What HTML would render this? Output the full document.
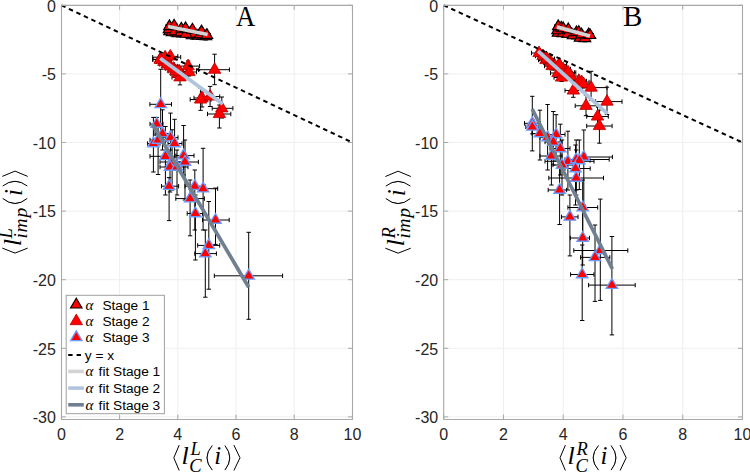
<!DOCTYPE html>
<html><head><meta charset="utf-8"><style>
html,body{margin:0;padding:0;background:#fff;width:750px;height:472px;overflow:hidden}
svg{display:block}
.tk{font-family:"Liberation Sans",sans-serif;font-size:16px;fill:#262626}
.lt{font-family:"Liberation Sans",sans-serif;font-size:13.7px;fill:#000}
.la{font-family:"Liberation Serif",serif;font-style:italic;font-size:15px;fill:#000}
.mi{font-family:"Liberation Serif",serif;font-style:italic;font-size:25px;fill:#000}
.mis{font-family:"Liberation Serif",serif;font-style:italic;font-size:18.5px;fill:#000}
.mp{font-family:"Liberation Serif",serif;font-size:30.5px;fill:#000}
.ml{font-family:"Liberation Serif",serif;font-style:italic;font-size:26px;fill:#000}
.mr{font-family:"Liberation Serif",serif;font-size:24px;fill:#000}
.pl{font-family:"Liberation Serif",serif;font-size:29px;fill:#000}
</style></head><body>
<svg width="750" height="472" viewBox="0 0 750 472">
<rect width="750" height="472" fill="#fff"/>
<line x1="119.60" y1="5.3" x2="119.60" y2="419.1" stroke="#efefef" stroke-width="1"/>
<line x1="177.80" y1="5.3" x2="177.80" y2="419.1" stroke="#efefef" stroke-width="1"/>
<line x1="236.00" y1="5.3" x2="236.00" y2="419.1" stroke="#efefef" stroke-width="1"/>
<line x1="294.20" y1="5.3" x2="294.20" y2="419.1" stroke="#efefef" stroke-width="1"/>
<line x1="61.4" y1="73.90" x2="352.4" y2="73.90" stroke="#efefef" stroke-width="1"/>
<line x1="61.4" y1="142.50" x2="352.4" y2="142.50" stroke="#efefef" stroke-width="1"/>
<line x1="61.4" y1="211.10" x2="352.4" y2="211.10" stroke="#efefef" stroke-width="1"/>
<line x1="61.4" y1="279.70" x2="352.4" y2="279.70" stroke="#efefef" stroke-width="1"/>
<line x1="61.4" y1="348.30" x2="352.4" y2="348.30" stroke="#efefef" stroke-width="1"/>
<line x1="61.4" y1="416.90" x2="352.4" y2="416.90" stroke="#efefef" stroke-width="1"/>
<path d="M169.5,28.0V35.0M167.3,28.0h4.4M167.3,35.0h4.4M166.0,31.5H173.0M166.0,29.3v4.4M173.0,29.3v4.4M172.0,29.0V36.0M169.8,29.0h4.4M169.8,36.0h4.4M168.5,32.5H175.5M168.5,30.3v4.4M175.5,30.3v4.4M178.0,30.0V37.0M175.8,30.0h4.4M175.8,37.0h4.4M174.5,33.5H181.5M174.5,31.3v4.4M181.5,31.3v4.4M192.0,32.0V39.0M189.8,32.0h4.4M189.8,39.0h4.4M188.5,35.5H195.5M188.5,33.3v4.4M195.5,33.3v4.4M198.0,32.3V39.3M195.8,32.3h4.4M195.8,39.3h4.4M194.5,35.8H201.5M194.5,33.6v4.4M201.5,33.6v4.4M204.0,32.7V39.7M201.8,32.7h4.4M201.8,39.7h4.4M200.5,36.2H207.5M200.5,34.0v4.4M207.5,34.0v4.4M169.0,26.0V33.0M166.8,26.0h4.4M166.8,33.0h4.4M165.5,29.5H172.5M165.5,27.3v4.4M172.5,27.3v4.4M175.0,28.0V35.0M172.8,28.0h4.4M172.8,35.0h4.4M171.5,31.5H178.5M171.5,29.3v4.4M178.5,29.3v4.4M181.0,29.0V36.0M178.8,29.0h4.4M178.8,36.0h4.4M177.5,32.5H184.5M177.5,30.3v4.4M184.5,30.3v4.4M188.0,29.5V36.5M185.8,29.5h4.4M185.8,36.5h4.4M184.5,33.0H191.5M184.5,30.8v4.4M191.5,30.8v4.4M194.0,30.5V37.5M191.8,30.5h4.4M191.8,37.5h4.4M190.5,34.0H197.5M190.5,31.8v4.4M197.5,31.8v4.4M200.0,31.0V38.0M197.8,31.0h4.4M197.8,38.0h4.4M196.5,34.5H203.5M196.5,32.3v4.4M203.5,32.3v4.4M206.0,33.0V40.0M203.8,33.0h4.4M203.8,40.0h4.4M202.5,36.5H209.5M202.5,34.3v4.4M209.5,34.3v4.4M186.0,30.5V37.5M183.8,30.5h4.4M183.8,37.5h4.4M182.5,34.0H189.5M182.5,31.8v4.4M189.5,31.8v4.4M169.4,22.9V29.9M167.2,22.9h4.4M167.2,29.9h4.4M165.9,26.4H172.9M165.9,24.2v4.4M172.9,24.2v4.4M174.1,22.3V29.3M171.9,22.3h4.4M171.9,29.3h4.4M170.6,25.8H177.6M170.6,23.6v4.4M177.6,23.6v4.4M181.3,25.3V32.3M179.1,25.3h4.4M179.1,32.3h4.4M177.8,28.8H184.8M177.8,26.6v4.4M184.8,26.6v4.4M185.5,24.9V31.9M183.3,24.9h4.4M183.3,31.9h4.4M182.0,28.4H189.0M182.0,26.2v4.4M189.0,26.2v4.4M192.4,26.3V33.3M190.2,26.3h4.4M190.2,33.3h4.4M188.9,29.8H195.9M188.9,27.6v4.4M195.9,27.6v4.4M201.5,28.1V35.1M199.3,28.1h4.4M199.3,35.1h4.4M198.0,31.6H205.0M198.0,29.4v4.4M205.0,29.4v4.4M206.9,31.6V38.6M204.7,31.6h4.4M204.7,38.6h4.4M203.4,35.1H210.4M203.4,32.9v4.4M210.4,32.9v4.4" stroke="#000" stroke-width="1" fill="none"/>
<path transform="translate(169.5,31.5)" d="M0,-6.5 L5.75,3.25 L-5.75,3.25 Z" fill="#ff0000" stroke="#000" stroke-width="1.15"/>
<path transform="translate(172.0,32.5)" d="M0,-6.5 L5.75,3.25 L-5.75,3.25 Z" fill="#ff0000" stroke="#000" stroke-width="1.15"/>
<path transform="translate(178.0,33.5)" d="M0,-6.5 L5.75,3.25 L-5.75,3.25 Z" fill="#ff0000" stroke="#000" stroke-width="1.15"/>
<path transform="translate(192.0,35.5)" d="M0,-6.5 L5.75,3.25 L-5.75,3.25 Z" fill="#ff0000" stroke="#000" stroke-width="1.15"/>
<path transform="translate(198.0,35.8)" d="M0,-6.5 L5.75,3.25 L-5.75,3.25 Z" fill="#ff0000" stroke="#000" stroke-width="1.15"/>
<path transform="translate(204.0,36.2)" d="M0,-6.5 L5.75,3.25 L-5.75,3.25 Z" fill="#ff0000" stroke="#000" stroke-width="1.15"/>
<path transform="translate(169.0,29.5)" d="M0,-6.5 L5.75,3.25 L-5.75,3.25 Z" fill="#ff0000" stroke="#000" stroke-width="1.15"/>
<path transform="translate(175.0,31.5)" d="M0,-6.5 L5.75,3.25 L-5.75,3.25 Z" fill="#ff0000" stroke="#000" stroke-width="1.15"/>
<path transform="translate(181.0,32.5)" d="M0,-6.5 L5.75,3.25 L-5.75,3.25 Z" fill="#ff0000" stroke="#000" stroke-width="1.15"/>
<path transform="translate(188.0,33.0)" d="M0,-6.5 L5.75,3.25 L-5.75,3.25 Z" fill="#ff0000" stroke="#000" stroke-width="1.15"/>
<path transform="translate(194.0,34.0)" d="M0,-6.5 L5.75,3.25 L-5.75,3.25 Z" fill="#ff0000" stroke="#000" stroke-width="1.15"/>
<path transform="translate(200.0,34.5)" d="M0,-6.5 L5.75,3.25 L-5.75,3.25 Z" fill="#ff0000" stroke="#000" stroke-width="1.15"/>
<path transform="translate(206.0,36.5)" d="M0,-6.5 L5.75,3.25 L-5.75,3.25 Z" fill="#ff0000" stroke="#000" stroke-width="1.15"/>
<path transform="translate(186.0,34.0)" d="M0,-6.5 L5.75,3.25 L-5.75,3.25 Z" fill="#ff0000" stroke="#000" stroke-width="1.15"/>
<path transform="translate(169.4,26.4)" d="M0,-6.5 L5.75,3.25 L-5.75,3.25 Z" fill="#ff0000" stroke="#000" stroke-width="1.15"/>
<path transform="translate(174.1,25.8)" d="M0,-6.5 L5.75,3.25 L-5.75,3.25 Z" fill="#ff0000" stroke="#000" stroke-width="1.15"/>
<path transform="translate(181.3,28.8)" d="M0,-6.5 L5.75,3.25 L-5.75,3.25 Z" fill="#ff0000" stroke="#000" stroke-width="1.15"/>
<path transform="translate(185.5,28.4)" d="M0,-6.5 L5.75,3.25 L-5.75,3.25 Z" fill="#ff0000" stroke="#000" stroke-width="1.15"/>
<path transform="translate(192.4,29.8)" d="M0,-6.5 L5.75,3.25 L-5.75,3.25 Z" fill="#ff0000" stroke="#000" stroke-width="1.15"/>
<path transform="translate(201.5,31.6)" d="M0,-6.5 L5.75,3.25 L-5.75,3.25 Z" fill="#ff0000" stroke="#000" stroke-width="1.15"/>
<path transform="translate(206.9,35.1)" d="M0,-6.5 L5.75,3.25 L-5.75,3.25 Z" fill="#ff0000" stroke="#000" stroke-width="1.15"/>
<path d="M160.4,55.3V63.3M158.2,55.3h4.4M158.2,63.3h4.4M152.9,59.3H167.9M152.9,57.1v4.4M167.9,57.1v4.4M163.8,57.8V65.8M161.6,57.8h4.4M161.6,65.8h4.4M156.3,61.8H171.3M156.3,59.6v4.4M171.3,59.6v4.4M167.2,60.4V68.4M165.0,60.4h4.4M165.0,68.4h4.4M159.7,64.4H174.7M159.7,62.2v4.4M174.7,62.2v4.4M169.8,62.1V70.1M167.6,62.1h4.4M167.6,70.1h4.4M162.3,66.1H177.3M162.3,63.9v4.4M177.3,63.9v4.4M173.2,64.6V72.6M171.0,64.6h4.4M171.0,72.6h4.4M165.7,68.6H180.7M165.7,66.4v4.4M180.7,66.4v4.4M175.7,67.1V75.1M173.5,67.1h4.4M173.5,75.1h4.4M168.2,71.1H183.2M168.2,68.9v4.4M183.2,68.9v4.4M178.2,69.7V77.7M176.0,69.7h4.4M176.0,77.7h4.4M170.7,73.7H185.7M170.7,71.5v4.4M185.7,71.5v4.4M180.0,70.0V84.9M177.8,70.0h4.4M177.8,84.9h4.4M172.0,77.3H188.0M172.0,75.1v4.4M188.0,75.1v4.4M160.2,55.7V63.7M158.0,55.7h4.4M158.0,63.7h4.4M152.7,59.7H167.7M152.7,57.5v4.4M167.7,57.5v4.4M165.1,53.0V64.0M162.9,53.0h4.4M162.9,64.0h4.4M152.7,57.2H180.7M152.7,55.0v4.4M180.7,55.0v4.4M170.3,52.4V60.4M168.1,52.4h4.4M168.1,60.4h4.4M162.8,56.4H177.8M162.8,54.2v4.4M177.8,54.2v4.4M179.2,67.4V75.4M177.0,67.4h4.4M177.0,75.4h4.4M171.7,71.4H186.7M171.7,69.2v4.4M186.7,69.2v4.4M188.1,61.0V75.0M185.9,61.0h4.4M185.9,75.0h4.4M175.0,66.1H199.6M175.0,63.9v4.4M199.6,63.9v4.4M189.0,68.0V76.0M186.8,68.0h4.4M186.8,76.0h4.4M181.5,72.0H196.5M181.5,69.8v4.4M196.5,69.8v4.4M178.9,67.6V75.6M176.7,67.6h4.4M176.7,75.6h4.4M171.4,71.6H186.4M171.4,69.4v4.4M186.4,69.4v4.4M214.6,54.2V84.7M212.4,54.2h4.4M212.4,84.7h4.4M198.5,69.7H229.4M198.5,67.5v4.4M229.4,67.5v4.4M202.0,92.0V107.0M199.8,92.0h4.4M199.8,107.0h4.4M194.0,98.0H210.0M194.0,95.8v4.4M210.0,95.8v4.4M200.6,88.0V110.3M198.4,88.0h4.4M198.4,110.3h4.4M190.2,99.5H211.0M190.2,97.3v4.4M211.0,97.3v4.4M210.1,86.4V106.5M207.9,86.4h4.4M207.9,106.5h4.4M200.0,96.5H219.7M200.0,94.3v4.4M219.7,94.3v4.4M221.8,97.0V118.0M219.6,97.0h4.4M219.6,118.0h4.4M212.2,108.3H232.9M212.2,106.1v4.4M232.9,106.1v4.4M219.4,105.0V128.0M217.2,105.0h4.4M217.2,128.0h4.4M207.5,114.0H230.8M207.5,111.8v4.4M230.8,111.8v4.4" stroke="#000" stroke-width="1" fill="none"/>
<path transform="translate(160.4,59.3)" d="M0,-7.0 L6.2,3.6 L-6.2,3.6 Z" fill="#ff0000" stroke="#b80000" stroke-width="0.8"/>
<path transform="translate(163.8,61.8)" d="M0,-7.0 L6.2,3.6 L-6.2,3.6 Z" fill="#ff0000" stroke="#b80000" stroke-width="0.8"/>
<path transform="translate(167.2,64.4)" d="M0,-7.0 L6.2,3.6 L-6.2,3.6 Z" fill="#ff0000" stroke="#b80000" stroke-width="0.8"/>
<path transform="translate(169.8,66.1)" d="M0,-7.0 L6.2,3.6 L-6.2,3.6 Z" fill="#ff0000" stroke="#b80000" stroke-width="0.8"/>
<path transform="translate(173.2,68.6)" d="M0,-7.0 L6.2,3.6 L-6.2,3.6 Z" fill="#ff0000" stroke="#b80000" stroke-width="0.8"/>
<path transform="translate(175.7,71.1)" d="M0,-7.0 L6.2,3.6 L-6.2,3.6 Z" fill="#ff0000" stroke="#b80000" stroke-width="0.8"/>
<path transform="translate(178.2,73.7)" d="M0,-7.0 L6.2,3.6 L-6.2,3.6 Z" fill="#ff0000" stroke="#b80000" stroke-width="0.8"/>
<path transform="translate(180.0,77.3)" d="M0,-7.0 L6.2,3.6 L-6.2,3.6 Z" fill="#ff0000" stroke="#b80000" stroke-width="0.8"/>
<path transform="translate(160.2,59.7)" d="M0,-7.0 L6.2,3.6 L-6.2,3.6 Z" fill="#ff0000" stroke="#b80000" stroke-width="0.8"/>
<path transform="translate(165.1,57.2)" d="M0,-7.0 L6.2,3.6 L-6.2,3.6 Z" fill="#ff0000" stroke="#b80000" stroke-width="0.8"/>
<path transform="translate(170.3,56.4)" d="M0,-7.0 L6.2,3.6 L-6.2,3.6 Z" fill="#ff0000" stroke="#b80000" stroke-width="0.8"/>
<path transform="translate(179.2,71.4)" d="M0,-7.0 L6.2,3.6 L-6.2,3.6 Z" fill="#ff0000" stroke="#b80000" stroke-width="0.8"/>
<path transform="translate(188.1,66.1)" d="M0,-7.0 L6.2,3.6 L-6.2,3.6 Z" fill="#ff0000" stroke="#b80000" stroke-width="0.8"/>
<path transform="translate(189.0,72.0)" d="M0,-7.0 L6.2,3.6 L-6.2,3.6 Z" fill="#ff0000" stroke="#b80000" stroke-width="0.8"/>
<path transform="translate(178.9,71.6)" d="M0,-7.0 L6.2,3.6 L-6.2,3.6 Z" fill="#ff0000" stroke="#b80000" stroke-width="0.8"/>
<path transform="translate(214.6,69.7)" d="M0,-7.0 L6.2,3.6 L-6.2,3.6 Z" fill="#ff0000" stroke="#b80000" stroke-width="0.8"/>
<path transform="translate(202.0,98.0)" d="M0,-7.0 L6.2,3.6 L-6.2,3.6 Z" fill="#ff0000" stroke="#b80000" stroke-width="0.8"/>
<path transform="translate(200.6,99.5)" d="M0,-7.0 L6.2,3.6 L-6.2,3.6 Z" fill="#ff0000" stroke="#b80000" stroke-width="0.8"/>
<path transform="translate(210.1,96.5)" d="M0,-7.0 L6.2,3.6 L-6.2,3.6 Z" fill="#ff0000" stroke="#b80000" stroke-width="0.8"/>
<path transform="translate(221.8,108.3)" d="M0,-7.0 L6.2,3.6 L-6.2,3.6 Z" fill="#ff0000" stroke="#b80000" stroke-width="0.8"/>
<path transform="translate(219.4,114.0)" d="M0,-7.0 L6.2,3.6 L-6.2,3.6 Z" fill="#ff0000" stroke="#b80000" stroke-width="0.8"/>
<path d="M160.7,69.3V135.0M158.5,69.3h4.4M158.5,135.0h4.4M149.9,104.3H171.5M149.9,102.1v4.4M171.5,102.1v4.4M156.7,117.4V135.0M154.5,117.4h4.4M154.5,135.0h4.4M150.0,124.0H163.0M150.0,121.8v4.4M163.0,121.8v4.4M162.5,109.8V150.0M160.3,109.8h4.4M160.3,150.0h4.4M155.0,133.6H170.0M155.0,131.4v4.4M170.0,131.4v4.4M170.5,113.1V160.0M168.3,113.1h4.4M168.3,160.0h4.4M163.0,137.6H178.0M163.0,135.4v4.4M178.0,135.4v4.4M153.4,117.4V172.0M151.2,117.4h4.4M151.2,172.0h4.4M147.6,143.5H160.0M147.6,141.3v4.4M160.0,141.3v4.4M158.1,126.5V174.5M155.9,126.5h4.4M155.9,174.5h4.4M150.0,140.0H166.0M150.0,137.8v4.4M166.0,137.8v4.4M174.6,119.3V170.0M172.4,119.3h4.4M172.4,170.0h4.4M168.0,143.5H182.0M168.0,141.3v4.4M182.0,141.3v4.4M165.4,126.5V195.0M163.2,126.5h4.4M163.2,195.0h4.4M150.0,156.3H175.0M150.0,154.1v4.4M175.0,154.1v4.4M183.6,125.5V175.0M181.4,125.5h4.4M181.4,175.0h4.4M176.0,155.6H194.0M176.0,153.4v4.4M194.0,153.4v4.4M172.1,129.8V190.0M169.9,129.8h4.4M169.9,190.0h4.4M160.0,162.0H183.0M160.0,159.8v4.4M183.0,159.8v4.4M185.0,140.0V200.0M182.8,140.0h4.4M182.8,200.0h4.4M176.0,162.0H198.4M176.0,159.8v4.4M198.4,159.8v4.4M170.0,150.0V192.0M167.8,150.0h4.4M167.8,192.0h4.4M160.0,167.0H180.0M160.0,164.8v4.4M180.0,164.8v4.4M177.0,150.0V195.0M174.8,150.0h4.4M174.8,195.0h4.4M168.0,167.0H188.0M168.0,164.8v4.4M188.0,164.8v4.4M169.1,177.6V220.6M166.9,177.6h4.4M166.9,220.6h4.4M161.5,186.2H178.6M161.5,184.0v4.4M178.6,184.0v4.4M194.8,170.0V230.0M192.6,170.0h4.4M192.6,230.0h4.4M185.0,186.2H205.0M185.0,184.0v4.4M205.0,184.0v4.4M203.1,148.3V230.0M200.9,148.3h4.4M200.9,230.0h4.4M192.0,188.7H217.7M192.0,186.5v4.4M217.7,186.5v4.4M190.1,180.0V235.8M187.9,180.0h4.4M187.9,235.8h4.4M175.8,198.6H204.4M175.8,196.4v4.4M204.4,196.4v4.4M195.4,195.0V260.0M193.2,195.0h4.4M193.2,260.0h4.4M187.2,213.5H202.5M187.2,211.3v4.4M202.5,211.3v4.4M215.5,188.1V244.4M213.3,188.1h4.4M213.3,244.4h4.4M202.5,220.0H229.2M202.5,217.8v4.4M229.2,217.8v4.4M208.8,201.5V289.2M206.6,201.5h4.4M206.6,289.2h4.4M197.7,245.4H219.7M197.7,243.2v4.4M219.7,243.2v4.4M205.3,230.0V297.2M203.1,230.0h4.4M203.1,297.2h4.4M194.8,253.6H216.4M194.8,251.4v4.4M216.4,251.4v4.4M248.7,232.3V319.3M246.5,232.3h4.4M246.5,319.3h4.4M214.3,275.8H282.6M214.3,273.6v4.4M282.6,273.6v4.4" stroke="#000" stroke-width="1" fill="none"/>
<path transform="translate(160.7,104.3)" d="M0,-6.5 L5.75,3.25 L-5.75,3.25 Z" fill="#ff0000" stroke="#6b9cff" stroke-width="1.3"/>
<path transform="translate(156.7,124.0)" d="M0,-6.5 L5.75,3.25 L-5.75,3.25 Z" fill="#ff0000" stroke="#6b9cff" stroke-width="1.3"/>
<path transform="translate(162.5,133.6)" d="M0,-6.5 L5.75,3.25 L-5.75,3.25 Z" fill="#ff0000" stroke="#6b9cff" stroke-width="1.3"/>
<path transform="translate(170.5,137.6)" d="M0,-6.5 L5.75,3.25 L-5.75,3.25 Z" fill="#ff0000" stroke="#6b9cff" stroke-width="1.3"/>
<path transform="translate(153.4,143.5)" d="M0,-6.5 L5.75,3.25 L-5.75,3.25 Z" fill="#ff0000" stroke="#6b9cff" stroke-width="1.3"/>
<path transform="translate(158.1,140.0)" d="M0,-6.5 L5.75,3.25 L-5.75,3.25 Z" fill="#ff0000" stroke="#6b9cff" stroke-width="1.3"/>
<path transform="translate(174.6,143.5)" d="M0,-6.5 L5.75,3.25 L-5.75,3.25 Z" fill="#ff0000" stroke="#6b9cff" stroke-width="1.3"/>
<path transform="translate(165.4,156.3)" d="M0,-6.5 L5.75,3.25 L-5.75,3.25 Z" fill="#ff0000" stroke="#6b9cff" stroke-width="1.3"/>
<path transform="translate(183.6,155.6)" d="M0,-6.5 L5.75,3.25 L-5.75,3.25 Z" fill="#ff0000" stroke="#6b9cff" stroke-width="1.3"/>
<path transform="translate(172.1,162.0)" d="M0,-6.5 L5.75,3.25 L-5.75,3.25 Z" fill="#ff0000" stroke="#6b9cff" stroke-width="1.3"/>
<path transform="translate(185.0,162.0)" d="M0,-6.5 L5.75,3.25 L-5.75,3.25 Z" fill="#ff0000" stroke="#6b9cff" stroke-width="1.3"/>
<path transform="translate(170.0,167.0)" d="M0,-6.5 L5.75,3.25 L-5.75,3.25 Z" fill="#ff0000" stroke="#6b9cff" stroke-width="1.3"/>
<path transform="translate(177.0,167.0)" d="M0,-6.5 L5.75,3.25 L-5.75,3.25 Z" fill="#ff0000" stroke="#6b9cff" stroke-width="1.3"/>
<path transform="translate(169.1,186.2)" d="M0,-6.5 L5.75,3.25 L-5.75,3.25 Z" fill="#ff0000" stroke="#6b9cff" stroke-width="1.3"/>
<path transform="translate(194.8,186.2)" d="M0,-6.5 L5.75,3.25 L-5.75,3.25 Z" fill="#ff0000" stroke="#6b9cff" stroke-width="1.3"/>
<path transform="translate(203.1,188.7)" d="M0,-6.5 L5.75,3.25 L-5.75,3.25 Z" fill="#ff0000" stroke="#6b9cff" stroke-width="1.3"/>
<path transform="translate(190.1,198.6)" d="M0,-6.5 L5.75,3.25 L-5.75,3.25 Z" fill="#ff0000" stroke="#6b9cff" stroke-width="1.3"/>
<path transform="translate(195.4,213.5)" d="M0,-6.5 L5.75,3.25 L-5.75,3.25 Z" fill="#ff0000" stroke="#6b9cff" stroke-width="1.3"/>
<path transform="translate(215.5,220.0)" d="M0,-6.5 L5.75,3.25 L-5.75,3.25 Z" fill="#ff0000" stroke="#6b9cff" stroke-width="1.3"/>
<path transform="translate(208.8,245.4)" d="M0,-6.5 L5.75,3.25 L-5.75,3.25 Z" fill="#ff0000" stroke="#6b9cff" stroke-width="1.3"/>
<path transform="translate(205.3,253.6)" d="M0,-6.5 L5.75,3.25 L-5.75,3.25 Z" fill="#ff0000" stroke="#6b9cff" stroke-width="1.3"/>
<path transform="translate(248.7,275.8)" d="M0,-6.5 L5.75,3.25 L-5.75,3.25 Z" fill="#ff0000" stroke="#6b9cff" stroke-width="1.3"/>
<line x1="61.4" y1="5.3" x2="352.4" y2="142.50000000000003" stroke="#000" stroke-width="2.0" stroke-dasharray="4.5,3.77"/>
<line x1="168.1" y1="26.5" x2="207.6" y2="34.5" stroke="#d3d3d3" stroke-width="3.7"/>
<line x1="160.2" y1="58.2" x2="222.8" y2="103.9" stroke="#b0c4de" stroke-width="3.7"/>
<line x1="152.7" y1="124.8" x2="248.7" y2="287.3" stroke="#708090" stroke-width="3.7"/>
<line x1="61.40" y1="419.1" x2="61.40" y2="414.6" stroke="#a8a8a8" stroke-width="1"/>
<line x1="61.40" y1="5.3" x2="61.40" y2="9.8" stroke="#a8a8a8" stroke-width="1"/>
<line x1="119.60" y1="419.1" x2="119.60" y2="414.6" stroke="#a8a8a8" stroke-width="1"/>
<line x1="119.60" y1="5.3" x2="119.60" y2="9.8" stroke="#a8a8a8" stroke-width="1"/>
<line x1="177.80" y1="419.1" x2="177.80" y2="414.6" stroke="#a8a8a8" stroke-width="1"/>
<line x1="177.80" y1="5.3" x2="177.80" y2="9.8" stroke="#a8a8a8" stroke-width="1"/>
<line x1="236.00" y1="419.1" x2="236.00" y2="414.6" stroke="#a8a8a8" stroke-width="1"/>
<line x1="236.00" y1="5.3" x2="236.00" y2="9.8" stroke="#a8a8a8" stroke-width="1"/>
<line x1="294.20" y1="419.1" x2="294.20" y2="414.6" stroke="#a8a8a8" stroke-width="1"/>
<line x1="294.20" y1="5.3" x2="294.20" y2="9.8" stroke="#a8a8a8" stroke-width="1"/>
<line x1="352.40" y1="419.1" x2="352.40" y2="414.6" stroke="#a8a8a8" stroke-width="1"/>
<line x1="352.40" y1="5.3" x2="352.40" y2="9.8" stroke="#a8a8a8" stroke-width="1"/>
<line x1="61.4" y1="5.30" x2="65.9" y2="5.30" stroke="#a8a8a8" stroke-width="1"/>
<line x1="352.4" y1="5.30" x2="347.9" y2="5.30" stroke="#a8a8a8" stroke-width="1"/>
<line x1="61.4" y1="73.90" x2="65.9" y2="73.90" stroke="#a8a8a8" stroke-width="1"/>
<line x1="352.4" y1="73.90" x2="347.9" y2="73.90" stroke="#a8a8a8" stroke-width="1"/>
<line x1="61.4" y1="142.50" x2="65.9" y2="142.50" stroke="#a8a8a8" stroke-width="1"/>
<line x1="352.4" y1="142.50" x2="347.9" y2="142.50" stroke="#a8a8a8" stroke-width="1"/>
<line x1="61.4" y1="211.10" x2="65.9" y2="211.10" stroke="#a8a8a8" stroke-width="1"/>
<line x1="352.4" y1="211.10" x2="347.9" y2="211.10" stroke="#a8a8a8" stroke-width="1"/>
<line x1="61.4" y1="279.70" x2="65.9" y2="279.70" stroke="#a8a8a8" stroke-width="1"/>
<line x1="352.4" y1="279.70" x2="347.9" y2="279.70" stroke="#a8a8a8" stroke-width="1"/>
<line x1="61.4" y1="348.30" x2="65.9" y2="348.30" stroke="#a8a8a8" stroke-width="1"/>
<line x1="352.4" y1="348.30" x2="347.9" y2="348.30" stroke="#a8a8a8" stroke-width="1"/>
<line x1="61.4" y1="416.90" x2="65.9" y2="416.90" stroke="#a8a8a8" stroke-width="1"/>
<line x1="352.4" y1="416.90" x2="347.9" y2="416.90" stroke="#a8a8a8" stroke-width="1"/>
<path d="M61.5,4.9V420.0M352.5,4.9V420.0M61.0,5.4H353.0M61.0,419.5H353.0" fill="none" stroke="#a8a8a8" stroke-width="1.1"/>
<text x="61.40" y="439.9" text-anchor="middle" class="tk">0</text>
<text x="119.60" y="439.9" text-anchor="middle" class="tk">2</text>
<text x="177.80" y="439.9" text-anchor="middle" class="tk">4</text>
<text x="236.00" y="439.9" text-anchor="middle" class="tk">6</text>
<text x="294.20" y="439.9" text-anchor="middle" class="tk">8</text>
<text x="352.40" y="439.9" text-anchor="middle" class="tk">10</text>
<text x="55.90" y="11.60" text-anchor="end" class="tk">0</text>
<text x="55.90" y="80.20" text-anchor="end" class="tk">-5</text>
<text x="55.90" y="148.80" text-anchor="end" class="tk">-10</text>
<text x="55.90" y="217.40" text-anchor="end" class="tk">-15</text>
<text x="55.90" y="286.00" text-anchor="end" class="tk">-20</text>
<text x="55.90" y="354.60" text-anchor="end" class="tk">-25</text>
<text x="55.90" y="423.20" text-anchor="end" class="tk">-30</text>
<line x1="503.46" y1="5.3" x2="503.46" y2="419.1" stroke="#efefef" stroke-width="1"/>
<line x1="563.22" y1="5.3" x2="563.22" y2="419.1" stroke="#efefef" stroke-width="1"/>
<line x1="622.98" y1="5.3" x2="622.98" y2="419.1" stroke="#efefef" stroke-width="1"/>
<line x1="682.74" y1="5.3" x2="682.74" y2="419.1" stroke="#efefef" stroke-width="1"/>
<line x1="443.7" y1="73.90" x2="742.5" y2="73.90" stroke="#efefef" stroke-width="1"/>
<line x1="443.7" y1="142.50" x2="742.5" y2="142.50" stroke="#efefef" stroke-width="1"/>
<line x1="443.7" y1="211.10" x2="742.5" y2="211.10" stroke="#efefef" stroke-width="1"/>
<line x1="443.7" y1="279.70" x2="742.5" y2="279.70" stroke="#efefef" stroke-width="1"/>
<line x1="443.7" y1="348.30" x2="742.5" y2="348.30" stroke="#efefef" stroke-width="1"/>
<line x1="443.7" y1="416.90" x2="742.5" y2="416.90" stroke="#efefef" stroke-width="1"/>
<path d="M558.0,29.5V36.5M555.8,29.5h4.4M555.8,36.5h4.4M554.5,33.0H561.5M554.5,30.8v4.4M561.5,30.8v4.4M563.0,30.0V37.0M560.8,30.0h4.4M560.8,37.0h4.4M559.5,33.5H566.5M559.5,31.3v4.4M566.5,31.3v4.4M568.0,30.5V37.5M565.8,30.5h4.4M565.8,37.5h4.4M564.5,34.0H571.5M564.5,31.8v4.4M571.5,31.8v4.4M573.0,32.0V39.0M570.8,32.0h4.4M570.8,39.0h4.4M569.5,35.5H576.5M569.5,33.3v4.4M576.5,33.3v4.4M580.0,34.5V41.5M577.8,34.5h4.4M577.8,41.5h4.4M576.5,38.0H583.5M576.5,35.8v4.4M583.5,35.8v4.4M585.0,34.8V41.8M582.8,34.8h4.4M582.8,41.8h4.4M581.5,38.3H588.5M581.5,36.1v4.4M588.5,36.1v4.4M557.5,27.0V34.0M555.3,27.0h4.4M555.3,34.0h4.4M554.0,30.5H561.0M554.0,28.3v4.4M561.0,28.3v4.4M558.2,22.9V29.9M556.0,22.9h4.4M556.0,29.9h4.4M554.7,26.4H561.7M554.7,24.2v4.4M561.7,24.2v4.4M561.2,24.3V31.3M559.0,24.3h4.4M559.0,31.3h4.4M557.7,27.8H564.7M557.7,25.6v4.4M564.7,25.6v4.4M563.2,25.0V32.0M561.0,25.0h4.4M561.0,32.0h4.4M559.7,28.5H566.7M559.7,26.3v4.4M566.7,26.3v4.4M568.3,26.0V33.0M566.1,26.0h4.4M566.1,33.0h4.4M564.8,29.5H571.8M564.8,27.3v4.4M571.8,27.3v4.4M576.5,29.0V36.0M574.3,29.0h4.4M574.3,36.0h4.4M573.0,32.5H580.0M573.0,30.3v4.4M580.0,30.3v4.4M578.8,28.7V35.7M576.6,28.7h4.4M576.6,35.7h4.4M575.3,32.2H582.3M575.3,30.0v4.4M582.3,30.0v4.4M581.5,31.1V38.1M579.3,31.1h4.4M579.3,38.1h4.4M578.0,34.6H585.0M578.0,32.4v4.4M585.0,32.4v4.4M588.6,31.1V38.1M586.4,31.1h4.4M586.4,38.1h4.4M585.1,34.6H592.1M585.1,32.4v4.4M592.1,32.4v4.4M590.0,31.7V38.7M587.8,31.7h4.4M587.8,38.7h4.4M586.5,35.2H593.5M586.5,33.0v4.4M593.5,33.0v4.4" stroke="#000" stroke-width="1" fill="none"/>
<path transform="translate(558.0,33.0)" d="M0,-6.5 L5.75,3.25 L-5.75,3.25 Z" fill="#ff0000" stroke="#000" stroke-width="1.15"/>
<path transform="translate(563.0,33.5)" d="M0,-6.5 L5.75,3.25 L-5.75,3.25 Z" fill="#ff0000" stroke="#000" stroke-width="1.15"/>
<path transform="translate(568.0,34.0)" d="M0,-6.5 L5.75,3.25 L-5.75,3.25 Z" fill="#ff0000" stroke="#000" stroke-width="1.15"/>
<path transform="translate(573.0,35.5)" d="M0,-6.5 L5.75,3.25 L-5.75,3.25 Z" fill="#ff0000" stroke="#000" stroke-width="1.15"/>
<path transform="translate(580.0,38.0)" d="M0,-6.5 L5.75,3.25 L-5.75,3.25 Z" fill="#ff0000" stroke="#000" stroke-width="1.15"/>
<path transform="translate(585.0,38.3)" d="M0,-6.5 L5.75,3.25 L-5.75,3.25 Z" fill="#ff0000" stroke="#000" stroke-width="1.15"/>
<path transform="translate(557.5,30.5)" d="M0,-6.5 L5.75,3.25 L-5.75,3.25 Z" fill="#ff0000" stroke="#000" stroke-width="1.15"/>
<path transform="translate(558.2,26.4)" d="M0,-6.5 L5.75,3.25 L-5.75,3.25 Z" fill="#ff0000" stroke="#000" stroke-width="1.15"/>
<path transform="translate(561.2,27.8)" d="M0,-6.5 L5.75,3.25 L-5.75,3.25 Z" fill="#ff0000" stroke="#000" stroke-width="1.15"/>
<path transform="translate(563.2,28.5)" d="M0,-6.5 L5.75,3.25 L-5.75,3.25 Z" fill="#ff0000" stroke="#000" stroke-width="1.15"/>
<path transform="translate(568.3,29.5)" d="M0,-6.5 L5.75,3.25 L-5.75,3.25 Z" fill="#ff0000" stroke="#000" stroke-width="1.15"/>
<path transform="translate(576.5,32.5)" d="M0,-6.5 L5.75,3.25 L-5.75,3.25 Z" fill="#ff0000" stroke="#000" stroke-width="1.15"/>
<path transform="translate(578.8,32.2)" d="M0,-6.5 L5.75,3.25 L-5.75,3.25 Z" fill="#ff0000" stroke="#000" stroke-width="1.15"/>
<path transform="translate(581.5,34.6)" d="M0,-6.5 L5.75,3.25 L-5.75,3.25 Z" fill="#ff0000" stroke="#000" stroke-width="1.15"/>
<path transform="translate(588.6,34.6)" d="M0,-6.5 L5.75,3.25 L-5.75,3.25 Z" fill="#ff0000" stroke="#000" stroke-width="1.15"/>
<path transform="translate(590.0,35.2)" d="M0,-6.5 L5.75,3.25 L-5.75,3.25 Z" fill="#ff0000" stroke="#000" stroke-width="1.15"/>
<path d="M539.0,49.0V57.0M536.8,49.0h4.4M536.8,57.0h4.4M531.5,53.0H546.5M531.5,50.8v4.4M546.5,50.8v4.4M543.0,52.0V60.0M540.8,52.0h4.4M540.8,60.0h4.4M535.5,56.0H550.5M535.5,53.8v4.4M550.5,53.8v4.4M547.0,55.0V63.0M544.8,55.0h4.4M544.8,63.0h4.4M539.5,59.0H554.5M539.5,56.8v4.4M554.5,56.8v4.4M551.0,58.5V66.5M548.8,58.5h4.4M548.8,66.5h4.4M543.5,62.5H558.5M543.5,60.3v4.4M558.5,60.3v4.4M555.0,62.0V70.0M552.8,62.0h4.4M552.8,70.0h4.4M547.5,66.0H562.5M547.5,63.8v4.4M562.5,63.8v4.4M559.0,61.0V69.0M556.8,61.0h4.4M556.8,69.0h4.4M551.5,65.0H566.5M551.5,62.8v4.4M566.5,62.8v4.4M563.0,65.0V73.0M560.8,65.0h4.4M560.8,73.0h4.4M555.5,69.0H570.5M555.5,66.8v4.4M570.5,66.8v4.4M567.0,68.5V76.5M564.8,68.5h4.4M564.8,76.5h4.4M559.5,72.5H574.5M559.5,70.3v4.4M574.5,70.3v4.4M571.0,72.0V80.0M568.8,72.0h4.4M568.8,80.0h4.4M563.5,76.0H578.5M563.5,73.8v4.4M578.5,73.8v4.4M546.0,56.0V64.0M543.8,56.0h4.4M543.8,64.0h4.4M538.5,60.0H553.5M538.5,57.8v4.4M553.5,57.8v4.4M552.0,62.0V70.0M549.8,62.0h4.4M549.8,70.0h4.4M544.5,66.0H559.5M544.5,63.8v4.4M559.5,63.8v4.4M558.0,69.0V77.0M555.8,69.0h4.4M555.8,77.0h4.4M550.5,73.0H565.5M550.5,70.8v4.4M565.5,70.8v4.4M561.5,73.5V81.5M559.3,73.5h4.4M559.3,81.5h4.4M554.0,77.5H569.0M554.0,75.3v4.4M569.0,75.3v4.4M547.1,54.9V62.9M544.9,54.9h4.4M544.9,62.9h4.4M539.6,58.9H554.6M539.6,56.7v4.4M554.6,56.7v4.4M559.2,60.7V68.7M557.0,60.7h4.4M557.0,68.7h4.4M551.7,64.7H566.7M551.7,62.5v4.4M566.7,62.5v4.4M568.3,68.6V76.6M566.1,68.6h4.4M566.1,76.6h4.4M560.8,72.6H575.8M560.8,70.4v4.4M575.8,70.4v4.4M579.0,77.0V85.0M576.8,77.0h4.4M576.8,85.0h4.4M571.5,81.0H586.5M571.5,78.8v4.4M586.5,78.8v4.4M581.6,78.0V86.0M579.4,78.0h4.4M579.4,86.0h4.4M574.1,82.0H589.1M574.1,79.8v4.4M589.1,79.8v4.4M583.5,80.0V88.0M581.3,80.0h4.4M581.3,88.0h4.4M576.0,84.0H591.0M576.0,81.8v4.4M591.0,81.8v4.4M591.1,71.3V100.0M588.9,71.3h4.4M588.9,100.0h4.4M582.2,87.6H607.0M582.2,85.4v4.4M607.0,85.4v4.4M573.3,80.0V97.3M571.1,80.0h4.4M571.1,97.3h4.4M565.0,90.5H582.0M565.0,88.3v4.4M582.0,88.3v4.4M607.0,87.2V114.5M604.8,87.2h4.4M604.8,114.5h4.4M595.6,101.6H622.0M595.6,99.4v4.4M622.0,99.4v4.4M586.0,95.0V115.7M583.8,95.0h4.4M583.8,115.7h4.4M575.2,105.8H596.8M575.2,103.6v4.4M596.8,103.6v4.4M597.5,105.0V125.0M595.3,105.0h4.4M595.3,125.0h4.4M586.7,116.5H608.3M586.7,114.3v4.4M608.3,114.3v4.4M599.4,110.0V143.2M597.2,110.0h4.4M597.2,143.2h4.4M586.7,126.0H612.1M586.7,123.8v4.4M612.1,123.8v4.4" stroke="#000" stroke-width="1" fill="none"/>
<path transform="translate(539.0,53.0)" d="M0,-7.0 L6.2,3.6 L-6.2,3.6 Z" fill="#ff0000" stroke="#b80000" stroke-width="0.8"/>
<path transform="translate(543.0,56.0)" d="M0,-7.0 L6.2,3.6 L-6.2,3.6 Z" fill="#ff0000" stroke="#b80000" stroke-width="0.8"/>
<path transform="translate(547.0,59.0)" d="M0,-7.0 L6.2,3.6 L-6.2,3.6 Z" fill="#ff0000" stroke="#b80000" stroke-width="0.8"/>
<path transform="translate(551.0,62.5)" d="M0,-7.0 L6.2,3.6 L-6.2,3.6 Z" fill="#ff0000" stroke="#b80000" stroke-width="0.8"/>
<path transform="translate(555.0,66.0)" d="M0,-7.0 L6.2,3.6 L-6.2,3.6 Z" fill="#ff0000" stroke="#b80000" stroke-width="0.8"/>
<path transform="translate(559.0,65.0)" d="M0,-7.0 L6.2,3.6 L-6.2,3.6 Z" fill="#ff0000" stroke="#b80000" stroke-width="0.8"/>
<path transform="translate(563.0,69.0)" d="M0,-7.0 L6.2,3.6 L-6.2,3.6 Z" fill="#ff0000" stroke="#b80000" stroke-width="0.8"/>
<path transform="translate(567.0,72.5)" d="M0,-7.0 L6.2,3.6 L-6.2,3.6 Z" fill="#ff0000" stroke="#b80000" stroke-width="0.8"/>
<path transform="translate(571.0,76.0)" d="M0,-7.0 L6.2,3.6 L-6.2,3.6 Z" fill="#ff0000" stroke="#b80000" stroke-width="0.8"/>
<path transform="translate(546.0,60.0)" d="M0,-7.0 L6.2,3.6 L-6.2,3.6 Z" fill="#ff0000" stroke="#b80000" stroke-width="0.8"/>
<path transform="translate(552.0,66.0)" d="M0,-7.0 L6.2,3.6 L-6.2,3.6 Z" fill="#ff0000" stroke="#b80000" stroke-width="0.8"/>
<path transform="translate(558.0,73.0)" d="M0,-7.0 L6.2,3.6 L-6.2,3.6 Z" fill="#ff0000" stroke="#b80000" stroke-width="0.8"/>
<path transform="translate(561.5,77.5)" d="M0,-7.0 L6.2,3.6 L-6.2,3.6 Z" fill="#ff0000" stroke="#b80000" stroke-width="0.8"/>
<path transform="translate(547.1,58.9)" d="M0,-7.0 L6.2,3.6 L-6.2,3.6 Z" fill="#ff0000" stroke="#b80000" stroke-width="0.8"/>
<path transform="translate(559.2,64.7)" d="M0,-7.0 L6.2,3.6 L-6.2,3.6 Z" fill="#ff0000" stroke="#b80000" stroke-width="0.8"/>
<path transform="translate(568.3,72.6)" d="M0,-7.0 L6.2,3.6 L-6.2,3.6 Z" fill="#ff0000" stroke="#b80000" stroke-width="0.8"/>
<path transform="translate(579.0,81.0)" d="M0,-7.0 L6.2,3.6 L-6.2,3.6 Z" fill="#ff0000" stroke="#b80000" stroke-width="0.8"/>
<path transform="translate(581.6,82.0)" d="M0,-7.0 L6.2,3.6 L-6.2,3.6 Z" fill="#ff0000" stroke="#b80000" stroke-width="0.8"/>
<path transform="translate(583.5,84.0)" d="M0,-7.0 L6.2,3.6 L-6.2,3.6 Z" fill="#ff0000" stroke="#b80000" stroke-width="0.8"/>
<path transform="translate(591.1,87.6)" d="M0,-7.0 L6.2,3.6 L-6.2,3.6 Z" fill="#ff0000" stroke="#b80000" stroke-width="0.8"/>
<path transform="translate(573.3,90.5)" d="M0,-7.0 L6.2,3.6 L-6.2,3.6 Z" fill="#ff0000" stroke="#b80000" stroke-width="0.8"/>
<path transform="translate(607.0,101.6)" d="M0,-7.0 L6.2,3.6 L-6.2,3.6 Z" fill="#ff0000" stroke="#b80000" stroke-width="0.8"/>
<path transform="translate(586.0,105.8)" d="M0,-7.0 L6.2,3.6 L-6.2,3.6 Z" fill="#ff0000" stroke="#b80000" stroke-width="0.8"/>
<path transform="translate(597.5,116.5)" d="M0,-7.0 L6.2,3.6 L-6.2,3.6 Z" fill="#ff0000" stroke="#b80000" stroke-width="0.8"/>
<path transform="translate(599.4,126.0)" d="M0,-7.0 L6.2,3.6 L-6.2,3.6 Z" fill="#ff0000" stroke="#b80000" stroke-width="0.8"/>
<path d="M532.3,96.3V150.9M530.1,96.3h4.4M530.1,150.9h4.4M524.5,123.3H540.0M524.5,121.1v4.4M540.0,121.1v4.4M532.3,119.8V133.8M530.1,119.8h4.4M530.1,133.8h4.4M525.8,126.8H538.8M525.8,124.6v4.4M538.8,124.6v4.4M539.9,110.2V160.0M537.7,110.2h4.4M537.7,160.0h4.4M532.0,133.5H548.0M532.0,131.3v4.4M548.0,131.3v4.4M547.6,104.5V170.0M545.4,104.5h4.4M545.4,170.0h4.4M540.0,137.5H555.0M540.0,135.3v4.4M555.0,135.3v4.4M556.1,114.7V160.0M553.9,114.7h4.4M553.9,160.0h4.4M548.0,134.5H565.0M548.0,132.3v4.4M565.0,132.3v4.4M553.3,111.5V165.0M551.1,111.5h4.4M551.1,165.0h4.4M545.0,142.0H562.0M545.0,139.8v4.4M562.0,139.8v4.4M560.3,124.2V175.0M558.1,124.2h4.4M558.1,175.0h4.4M550.0,148.5H570.0M550.0,146.3v4.4M570.0,146.3v4.4M551.4,135.0V185.0M549.2,135.0h4.4M549.2,185.0h4.4M540.0,156.0H562.0M540.0,153.8v4.4M562.0,153.8v4.4M567.9,131.2V190.0M565.7,131.2h4.4M565.7,190.0h4.4M545.0,161.3H594.0M545.0,159.1v4.4M594.0,159.1v4.4M562.0,140.0V195.0M559.8,140.0h4.4M559.8,195.0h4.4M553.0,165.0H573.0M553.0,162.8v4.4M573.0,162.8v4.4M576.2,140.0V195.0M574.0,140.0h4.4M574.0,195.0h4.4M565.0,159.5H609.2M565.0,157.3v4.4M609.2,157.3v4.4M583.8,130.0V205.0M581.6,130.0h4.4M581.6,205.0h4.4M575.0,157.0H612.4M575.0,154.8v4.4M612.4,154.8v4.4M579.3,140.0V189.6M577.1,140.0h4.4M577.1,189.6h4.4M570.0,160.5H590.0M570.0,158.3v4.4M590.0,158.3v4.4M575.5,145.0V205.0M573.3,145.0h4.4M573.3,205.0h4.4M565.0,168.5H590.2M565.0,166.3v4.4M590.2,166.3v4.4M576.2,150.0V190.0M574.0,150.0h4.4M574.0,190.0h4.4M548.8,178.0H603.5M548.8,175.8v4.4M603.5,175.8v4.4M559.6,165.0V224.5M557.4,165.0h4.4M557.4,224.5h4.4M548.2,190.0H566.6M548.2,187.8v4.4M566.6,187.8v4.4M582.7,180.0V240.0M580.5,180.0h4.4M580.5,240.0h4.4M567.9,207.5H597.7M567.9,205.3v4.4M597.7,205.3v4.4M569.9,195.0V255.9M567.7,195.0h4.4M567.7,255.9h4.4M561.5,216.9H578.0M561.5,214.7v4.4M578.0,214.7v4.4M582.7,210.0V265.0M580.5,210.0h4.4M580.5,265.0h4.4M570.4,238.0H589.5M570.4,235.8v4.4M589.5,235.8v4.4M600.3,199.1V300.4M598.1,199.1h4.4M598.1,300.4h4.4M573.8,250.5H627.8M573.8,248.3v4.4M627.8,248.3v4.4M595.0,225.0V301.4M592.8,225.0h4.4M592.8,301.4h4.4M580.6,257.4H609.8M580.6,255.2v4.4M609.8,255.2v4.4M582.2,245.0V320.5M580.0,245.0h4.4M580.0,320.5h4.4M570.6,274.5H593.9M570.6,272.3v4.4M593.9,272.3v4.4M611.9,236.5V334.9M609.7,236.5h4.4M609.7,334.9h4.4M588.6,285.1H635.2M588.6,282.9v4.4M635.2,282.9v4.4" stroke="#000" stroke-width="1" fill="none"/>
<path transform="translate(532.3,123.3)" d="M0,-6.5 L5.75,3.25 L-5.75,3.25 Z" fill="#ff0000" stroke="#6b9cff" stroke-width="1.3"/>
<path transform="translate(532.3,126.8)" d="M0,-6.5 L5.75,3.25 L-5.75,3.25 Z" fill="#ff0000" stroke="#6b9cff" stroke-width="1.3"/>
<path transform="translate(539.9,133.5)" d="M0,-6.5 L5.75,3.25 L-5.75,3.25 Z" fill="#ff0000" stroke="#6b9cff" stroke-width="1.3"/>
<path transform="translate(547.6,137.5)" d="M0,-6.5 L5.75,3.25 L-5.75,3.25 Z" fill="#ff0000" stroke="#6b9cff" stroke-width="1.3"/>
<path transform="translate(556.1,134.5)" d="M0,-6.5 L5.75,3.25 L-5.75,3.25 Z" fill="#ff0000" stroke="#6b9cff" stroke-width="1.3"/>
<path transform="translate(553.3,142.0)" d="M0,-6.5 L5.75,3.25 L-5.75,3.25 Z" fill="#ff0000" stroke="#6b9cff" stroke-width="1.3"/>
<path transform="translate(560.3,148.5)" d="M0,-6.5 L5.75,3.25 L-5.75,3.25 Z" fill="#ff0000" stroke="#6b9cff" stroke-width="1.3"/>
<path transform="translate(551.4,156.0)" d="M0,-6.5 L5.75,3.25 L-5.75,3.25 Z" fill="#ff0000" stroke="#6b9cff" stroke-width="1.3"/>
<path transform="translate(567.9,161.3)" d="M0,-6.5 L5.75,3.25 L-5.75,3.25 Z" fill="#ff0000" stroke="#6b9cff" stroke-width="1.3"/>
<path transform="translate(562.0,165.0)" d="M0,-6.5 L5.75,3.25 L-5.75,3.25 Z" fill="#ff0000" stroke="#6b9cff" stroke-width="1.3"/>
<path transform="translate(576.2,159.5)" d="M0,-6.5 L5.75,3.25 L-5.75,3.25 Z" fill="#ff0000" stroke="#6b9cff" stroke-width="1.3"/>
<path transform="translate(583.8,157.0)" d="M0,-6.5 L5.75,3.25 L-5.75,3.25 Z" fill="#ff0000" stroke="#6b9cff" stroke-width="1.3"/>
<path transform="translate(579.3,160.5)" d="M0,-6.5 L5.75,3.25 L-5.75,3.25 Z" fill="#ff0000" stroke="#6b9cff" stroke-width="1.3"/>
<path transform="translate(575.5,168.5)" d="M0,-6.5 L5.75,3.25 L-5.75,3.25 Z" fill="#ff0000" stroke="#6b9cff" stroke-width="1.3"/>
<path transform="translate(576.2,178.0)" d="M0,-6.5 L5.75,3.25 L-5.75,3.25 Z" fill="#ff0000" stroke="#6b9cff" stroke-width="1.3"/>
<path transform="translate(559.6,190.0)" d="M0,-6.5 L5.75,3.25 L-5.75,3.25 Z" fill="#ff0000" stroke="#6b9cff" stroke-width="1.3"/>
<path transform="translate(582.7,207.5)" d="M0,-6.5 L5.75,3.25 L-5.75,3.25 Z" fill="#ff0000" stroke="#6b9cff" stroke-width="1.3"/>
<path transform="translate(569.9,216.9)" d="M0,-6.5 L5.75,3.25 L-5.75,3.25 Z" fill="#ff0000" stroke="#6b9cff" stroke-width="1.3"/>
<path transform="translate(582.7,238.0)" d="M0,-6.5 L5.75,3.25 L-5.75,3.25 Z" fill="#ff0000" stroke="#6b9cff" stroke-width="1.3"/>
<path transform="translate(600.3,250.5)" d="M0,-6.5 L5.75,3.25 L-5.75,3.25 Z" fill="#ff0000" stroke="#6b9cff" stroke-width="1.3"/>
<path transform="translate(595.0,257.4)" d="M0,-6.5 L5.75,3.25 L-5.75,3.25 Z" fill="#ff0000" stroke="#6b9cff" stroke-width="1.3"/>
<path transform="translate(582.2,274.5)" d="M0,-6.5 L5.75,3.25 L-5.75,3.25 Z" fill="#ff0000" stroke="#6b9cff" stroke-width="1.3"/>
<path transform="translate(611.9,285.1)" d="M0,-6.5 L5.75,3.25 L-5.75,3.25 Z" fill="#ff0000" stroke="#6b9cff" stroke-width="1.3"/>
<line x1="443.7" y1="5.3" x2="742.5" y2="142.50000000000003" stroke="#000" stroke-width="2.0" stroke-dasharray="4.5,3.77"/>
<line x1="556.8" y1="26.9" x2="590" y2="36" stroke="#d3d3d3" stroke-width="3.7"/>
<line x1="538.1" y1="51.1" x2="607.6" y2="113.8" stroke="#b0c4de" stroke-width="3.7"/>
<line x1="532.2" y1="109" x2="612.4" y2="269" stroke="#708090" stroke-width="3.7"/>
<line x1="443.70" y1="419.1" x2="443.70" y2="414.6" stroke="#a8a8a8" stroke-width="1"/>
<line x1="443.70" y1="5.3" x2="443.70" y2="9.8" stroke="#a8a8a8" stroke-width="1"/>
<line x1="503.46" y1="419.1" x2="503.46" y2="414.6" stroke="#a8a8a8" stroke-width="1"/>
<line x1="503.46" y1="5.3" x2="503.46" y2="9.8" stroke="#a8a8a8" stroke-width="1"/>
<line x1="563.22" y1="419.1" x2="563.22" y2="414.6" stroke="#a8a8a8" stroke-width="1"/>
<line x1="563.22" y1="5.3" x2="563.22" y2="9.8" stroke="#a8a8a8" stroke-width="1"/>
<line x1="622.98" y1="419.1" x2="622.98" y2="414.6" stroke="#a8a8a8" stroke-width="1"/>
<line x1="622.98" y1="5.3" x2="622.98" y2="9.8" stroke="#a8a8a8" stroke-width="1"/>
<line x1="682.74" y1="419.1" x2="682.74" y2="414.6" stroke="#a8a8a8" stroke-width="1"/>
<line x1="682.74" y1="5.3" x2="682.74" y2="9.8" stroke="#a8a8a8" stroke-width="1"/>
<line x1="742.50" y1="419.1" x2="742.50" y2="414.6" stroke="#a8a8a8" stroke-width="1"/>
<line x1="742.50" y1="5.3" x2="742.50" y2="9.8" stroke="#a8a8a8" stroke-width="1"/>
<line x1="443.7" y1="5.30" x2="448.2" y2="5.30" stroke="#a8a8a8" stroke-width="1"/>
<line x1="742.5" y1="5.30" x2="738.0" y2="5.30" stroke="#a8a8a8" stroke-width="1"/>
<line x1="443.7" y1="73.90" x2="448.2" y2="73.90" stroke="#a8a8a8" stroke-width="1"/>
<line x1="742.5" y1="73.90" x2="738.0" y2="73.90" stroke="#a8a8a8" stroke-width="1"/>
<line x1="443.7" y1="142.50" x2="448.2" y2="142.50" stroke="#a8a8a8" stroke-width="1"/>
<line x1="742.5" y1="142.50" x2="738.0" y2="142.50" stroke="#a8a8a8" stroke-width="1"/>
<line x1="443.7" y1="211.10" x2="448.2" y2="211.10" stroke="#a8a8a8" stroke-width="1"/>
<line x1="742.5" y1="211.10" x2="738.0" y2="211.10" stroke="#a8a8a8" stroke-width="1"/>
<line x1="443.7" y1="279.70" x2="448.2" y2="279.70" stroke="#a8a8a8" stroke-width="1"/>
<line x1="742.5" y1="279.70" x2="738.0" y2="279.70" stroke="#a8a8a8" stroke-width="1"/>
<line x1="443.7" y1="348.30" x2="448.2" y2="348.30" stroke="#a8a8a8" stroke-width="1"/>
<line x1="742.5" y1="348.30" x2="738.0" y2="348.30" stroke="#a8a8a8" stroke-width="1"/>
<line x1="443.7" y1="416.90" x2="448.2" y2="416.90" stroke="#a8a8a8" stroke-width="1"/>
<line x1="742.5" y1="416.90" x2="738.0" y2="416.90" stroke="#a8a8a8" stroke-width="1"/>
<path d="M443.7,4.9V420.0M742.5,4.9V420.0M443.2,5.4H743.0M443.2,419.5H743.0" fill="none" stroke="#a8a8a8" stroke-width="1.1"/>
<text x="443.70" y="439.9" text-anchor="middle" class="tk">0</text>
<text x="503.46" y="439.9" text-anchor="middle" class="tk">2</text>
<text x="563.22" y="439.9" text-anchor="middle" class="tk">4</text>
<text x="622.98" y="439.9" text-anchor="middle" class="tk">6</text>
<text x="682.74" y="439.9" text-anchor="middle" class="tk">8</text>
<text x="742.50" y="439.9" text-anchor="middle" class="tk">10</text>
<text x="438.20" y="11.60" text-anchor="end" class="tk">0</text>
<text x="438.20" y="80.20" text-anchor="end" class="tk">-5</text>
<text x="438.20" y="148.80" text-anchor="end" class="tk">-10</text>
<text x="438.20" y="217.40" text-anchor="end" class="tk">-15</text>
<text x="438.20" y="286.00" text-anchor="end" class="tk">-20</text>
<text x="438.20" y="354.60" text-anchor="end" class="tk">-25</text>
<text x="438.20" y="423.20" text-anchor="end" class="tk">-30</text>
<path d="M179.2,445.1 L173.8,457.8 L179.2,470.5" fill="none" stroke="#000" stroke-width="1.0"/><text x="181.4" y="464.3" class="ml">l</text><text x="190.4" y="454.8" class="mis">L</text><text x="189.2" y="471.6" class="mis">C</text><path d="M212.30,445.50 Q201.50,457.80 212.30,470.10" fill="none" stroke="#000" stroke-width="1.0"/><path d="M212.30,445.50 Q201.50,457.80 212.30,470.10 Q202.50,457.80 212.30,445.50 Z" fill="#000"/><text x="214.2" y="464.4" class="mi">i</text><path d="M224.90,445.50 Q234.70,457.80 224.90,470.10" fill="none" stroke="#000" stroke-width="1.0"/><path d="M224.90,445.50 Q234.70,457.80 224.90,470.10 Q233.70,457.80 224.90,445.50 Z" fill="#000"/><path d="M233.9,445.1 L240.0,457.8 L233.9,470.5" fill="none" stroke="#000" stroke-width="1.0"/>
<path d="M565.4,445.1 L560.0,457.8 L565.4,470.5" fill="none" stroke="#000" stroke-width="1.0"/><text x="567.6" y="464.3" class="ml">l</text><text x="576.6" y="454.8" class="mis">R</text><text x="575.4" y="471.6" class="mis">C</text><path d="M598.50,445.50 Q587.70,457.80 598.50,470.10" fill="none" stroke="#000" stroke-width="1.0"/><path d="M598.50,445.50 Q587.70,457.80 598.50,470.10 Q588.70,457.80 598.50,445.50 Z" fill="#000"/><text x="600.4" y="464.4" class="mi">i</text><path d="M611.10,445.50 Q620.90,457.80 611.10,470.10" fill="none" stroke="#000" stroke-width="1.0"/><path d="M611.10,445.50 Q620.90,457.80 611.10,470.10 Q619.90,457.80 611.10,445.50 Z" fill="#000"/><path d="M620.1,445.1 L626.2,457.8 L620.1,470.5" fill="none" stroke="#000" stroke-width="1.0"/>
<g transform="translate(21.5,253.1) rotate(-90)"><path d="M5.0,-19.2 L0.0,-6.5 L5.0,6.2" fill="none" stroke="#000" stroke-width="1.0"/><text x="6.8" y="-0.2" class="ml">l</text><text x="14.6" y="-9.5" class="mis">L</text><text x="14.6" y="5.5" class="mis" style="font-size:19.5px;letter-spacing:0.7px">imp</text><path d="M54.70,-18.80 Q44.50,-6.50 54.70,5.80" fill="none" stroke="#000" stroke-width="1.0"/><path d="M54.70,-18.80 Q44.50,-6.50 54.70,5.80 Q45.50,-6.50 54.70,-18.80 Z" fill="#000"/><text x="57.0" y="0.1" class="mi">i</text><path d="M67.10,-18.80 Q76.50,-6.50 67.10,5.80" fill="none" stroke="#000" stroke-width="1.0"/><path d="M67.10,-18.80 Q76.50,-6.50 67.10,5.80 Q75.50,-6.50 67.10,-18.80 Z" fill="#000"/><path d="M76.7,-19.2 L82.0,-6.5 L76.7,6.2" fill="none" stroke="#000" stroke-width="1.0"/></g>
<g transform="translate(404.6,253.2) rotate(-90)"><path d="M5.0,-19.2 L0.0,-6.5 L5.0,6.2" fill="none" stroke="#000" stroke-width="1.0"/><text x="6.8" y="-0.2" class="ml">l</text><text x="14.6" y="-9.5" class="mis">R</text><text x="14.6" y="5.5" class="mis" style="font-size:19.5px;letter-spacing:0.7px">imp</text><path d="M54.70,-18.80 Q44.50,-6.50 54.70,5.80" fill="none" stroke="#000" stroke-width="1.0"/><path d="M54.70,-18.80 Q44.50,-6.50 54.70,5.80 Q45.50,-6.50 54.70,-18.80 Z" fill="#000"/><text x="57.0" y="0.1" class="mi">i</text><path d="M67.10,-18.80 Q76.50,-6.50 67.10,5.80" fill="none" stroke="#000" stroke-width="1.0"/><path d="M67.10,-18.80 Q76.50,-6.50 67.10,5.80 Q75.50,-6.50 67.10,-18.80 Z" fill="#000"/><path d="M76.7,-19.2 L82.0,-6.5 L76.7,6.2" fill="none" stroke="#000" stroke-width="1.0"/></g>
<text transform="translate(236.0,25.6) scale(0.92,1)" class="pl">A</text>
<text x="623.0" y="25.6" class="pl">B</text>
<rect x="66.2" y="295.3" width="98.2" height="118.4" fill="#fff" stroke="#a0a0a0" stroke-width="1"/><path transform="translate(76.3,304.7)" d="M0,-6.5 L5.75,3.25 L-5.75,3.25 Z" fill="#ff0000" stroke="#000" stroke-width="1.15"/><text x="85.6" y="309.8" class="la">α</text><text x="102.4" y="309.8" class="lt">Stage 1</text><path transform="translate(76.3,321.1)" d="M0,-7.0 L6.2,3.6 L-6.2,3.6 Z" fill="#ff0000" stroke="#b80000" stroke-width="0.8"/><text x="85.6" y="326.2" class="la">α</text><text x="102.4" y="326.2" class="lt">Stage 2</text><path transform="translate(76.3,337.3)" d="M0,-6.5 L5.75,3.25 L-5.75,3.25 Z" fill="#ff0000" stroke="#6b9cff" stroke-width="1.3"/><text x="85.6" y="342.4" class="la">α</text><text x="102.4" y="342.4" class="lt">Stage 3</text><line x1="68.2" y1="355.1" x2="81.2" y2="355.1" stroke="#000" stroke-width="2" stroke-dasharray="4.4,4.0"/><text x="84.8" y="359.8" class="lt">y = x</text><line x1="68.2" y1="371.4" x2="83.8" y2="371.4" stroke="#d3d3d3" stroke-width="3.6"/><text x="85.6" y="376.3" class="la">α</text><text x="98.6" y="376.3" class="lt">fit Stage 1</text><line x1="68.2" y1="388.1" x2="83.8" y2="388.1" stroke="#b0c4de" stroke-width="3.6"/><text x="85.6" y="393.0" class="la">α</text><text x="98.6" y="393.0" class="lt">fit Stage 2</text><line x1="68.2" y1="404.8" x2="83.8" y2="404.8" stroke="#708090" stroke-width="3.6"/><text x="85.6" y="409.7" class="la">α</text><text x="98.6" y="409.7" class="lt">fit Stage 3</text>
</svg></body></html>
